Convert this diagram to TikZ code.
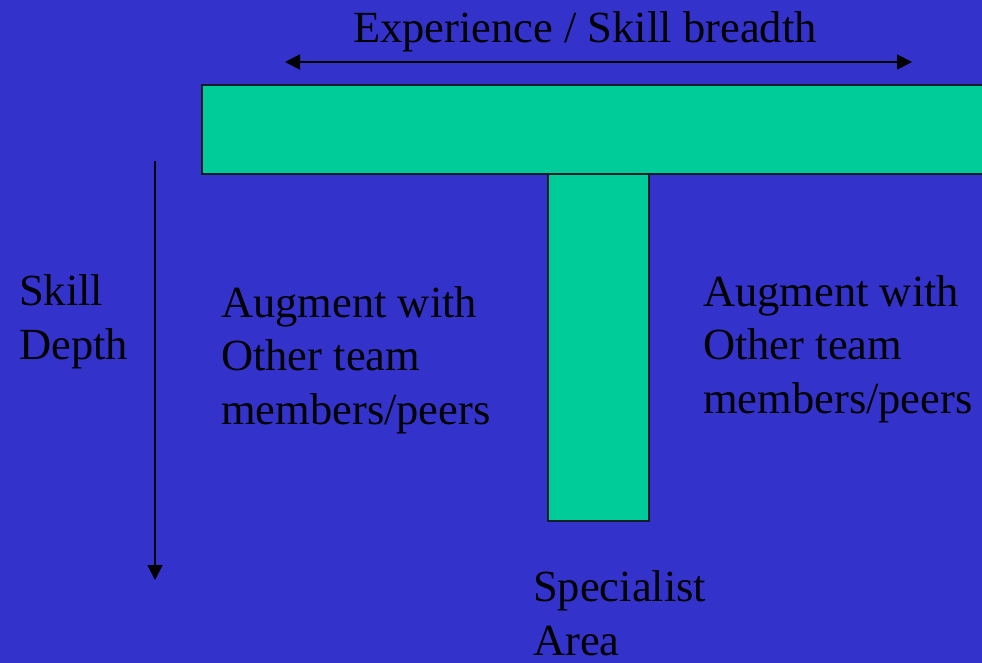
\documentclass[tikz,border=0pt]{standalone}
\usepackage{fontspec}
\setmainfont{Liberation Serif}
\usetikzlibrary{arrows.meta,positioning}
\definecolor{slide}{RGB}{51,51,204}
\definecolor{teal}{RGB}{0,204,153}
\definecolor{edge}{RGB}{15,30,40}
\tikzset{
  >={Triangle[length=15pt,width=15pt]},
  bar/.style={draw=edge,fill=teal,line width=1.8pt,inner sep=0pt},
  dim/.style={draw=black,line width=1.8pt},
  % base of a multi-line label sits on its last line
  txt/.style={font=\fontsize{44.5}{53.4}\selectfont,text=black,inner sep=0pt,
    anchor=base west,align=left},
}
\begin{document}
\begin{tikzpicture}[x=1pt,y=-1pt]
  \fill[slide] (0,0) rectangle (982,663);
  \useasboundingbox (0,0) rectangle (982,663);
  % the T: stem first so the cross bar edge runs over it
  \node[bar,anchor=north,minimum width=101pt,minimum height=347pt] (stem) at (598.5,173) {};
  \node[bar,anchor=north west,minimum width=790pt,minimum height=89pt] (cross) at (201,84) {};
  % breadth and depth arrows
  \coordinate (wl) at (285,62);
  \coordinate (wr) at (912,62);
  \coordinate (dtop) at (155,161);
  \coordinate (dbot) at (155,580);
  \draw[dim,<->] (wl) -- (wr);
  \draw[dim,->] (dtop) -- (dbot);
  % labels
  \node[txt] (breadth) at (353,43) {Experience / Skill breadth};
  \node[txt] (depth) at (19,359) {Skill\\Depth};
  \node[txt] (peersl) at (221,424) {Augment with\\Other team\\members/peers};
  \node[txt] (peersr) at (703,413) {Augment with\\Other team\\members/peers};
  \node[txt] (spec) at (533,655) {Specialist\\Area};
\end{tikzpicture}
\end{document}
